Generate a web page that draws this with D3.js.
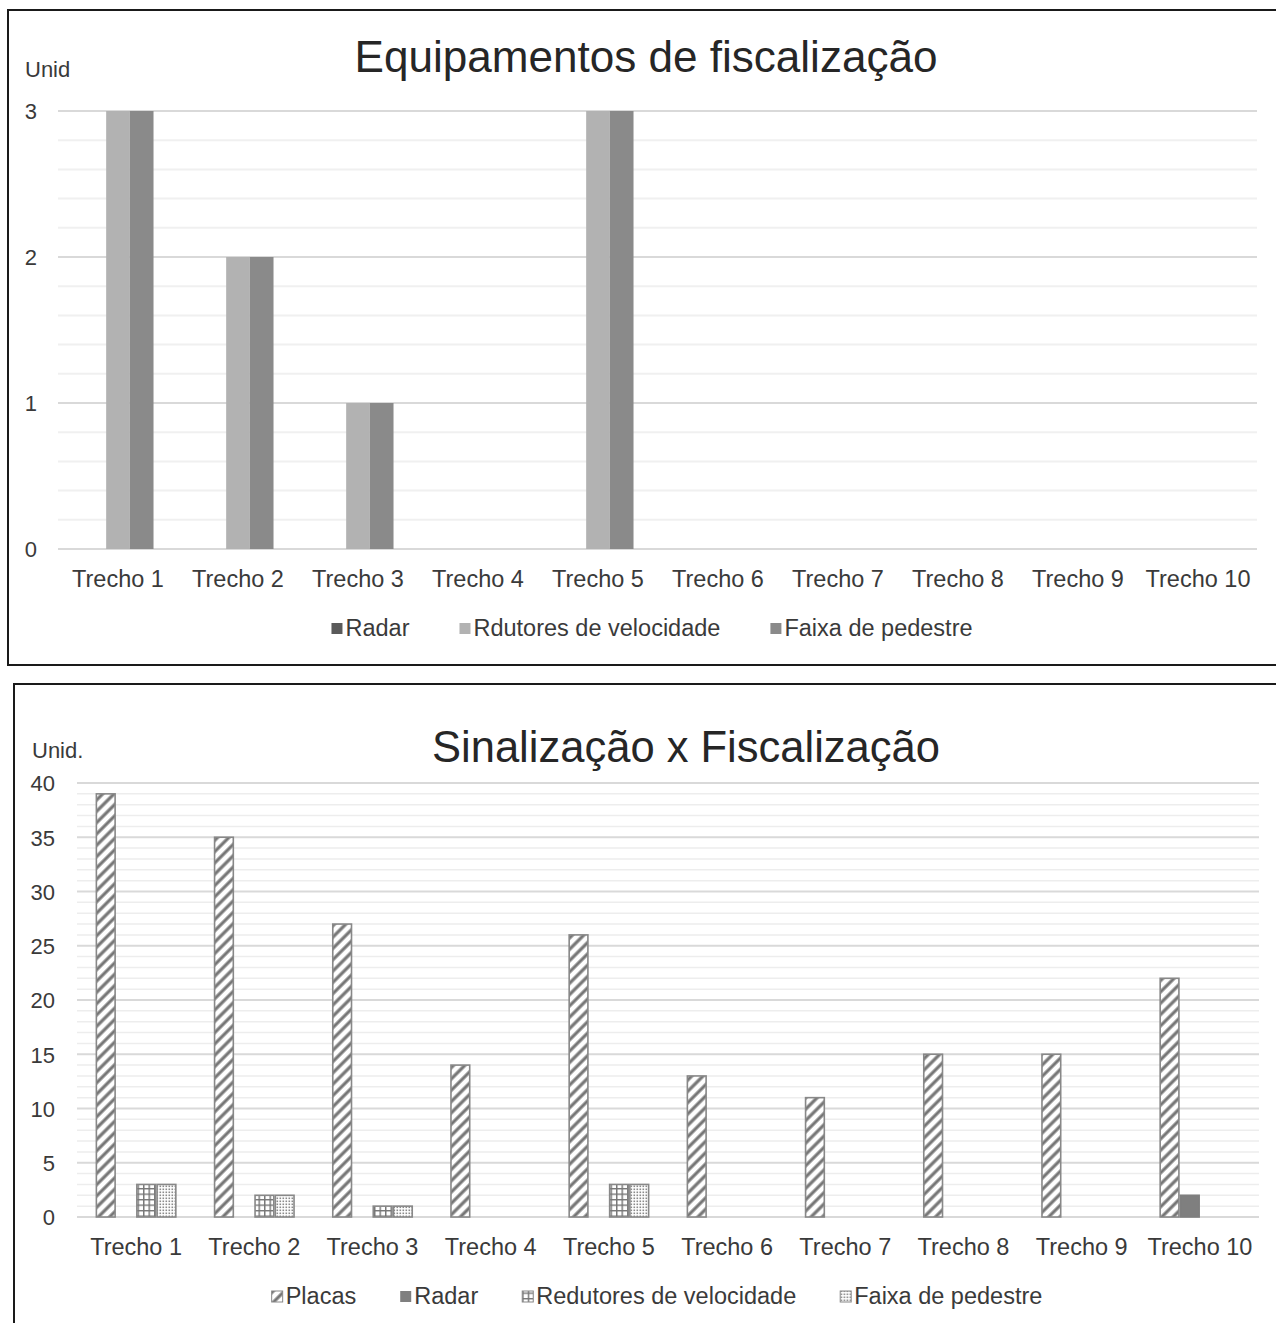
<!DOCTYPE html>
<html><head><meta charset="utf-8">
<script src="https://cdn.jsdelivr.net/npm/d3@7"></script>
<style>body{margin:0;background:#fff}svg{display:block}text{font-family:"Liberation Sans",Arial,sans-serif}</style>
</head><body>
<svg id="c" width="1276" height="1323"></svg>
<script>
const categories = ["Trecho 1","Trecho 2","Trecho 3","Trecho 4","Trecho 5","Trecho 6","Trecho 7","Trecho 8","Trecho 9","Trecho 10"];
// Chart 1: Equipamentos de fiscalização
const c1Series = ["Radar","Rdutores de velocidade","Faixa de pedestre"];
const c1Radar   = [0,0,0,0,0,0,0,0,0,0];
const c1Redutor = [3,2,1,0,3,0,0,0,0,0];
const c1Faixa   = [3,2,1,0,3,0,0,0,0,0];
const c1Ticks = [0,1,2,3];
// Chart 2: Sinalização x Fiscalização
const c2Series = ["Placas","Radar","Redutores de velocidade","Faixa de pedestre"];
const c2Placas  = [39,35,27,14,26,13,11,15,15,22];
const c2Radar   = [0,0,0,0,0,0,0,0,0,2];
const c2Redutor = [3,2,1,0,3,0,0,0,0,0];
const c2Faixa   = [3,2,1,0,3,0,0,0,0,0];
const c2Ticks = [0,5,10,15,20,25,30,35,40];

const svg = d3.select("#c");
const defs = svg.append("defs");
// hatch pattern
const ph = defs.append("pattern").attr("id","hatch").attr("patternUnits","userSpaceOnUse")
  .attr("width",8).attr("height",8).attr("patternTransform","rotate(45)");
ph.append("rect").attr("width",8).attr("height",8).attr("fill","#fff");
ph.append("line").attr("x1",2).attr("x2",2).attr("y1",0).attr("y2",8).attr("stroke","#767676").attr("stroke-width",3.2);
// grid pattern
const pg = defs.append("pattern").attr("id","grid").attr("patternUnits","userSpaceOnUse")
  .attr("width",5.5).attr("height",5.5);
pg.append("rect").attr("width",5.5).attr("height",5.5).attr("fill","#fff");
pg.append("path").attr("d","M0,0.7H5.5M0.7,0V5.5").attr("stroke","#767676").attr("stroke-width",1.5);
// dots pattern
const pd = defs.append("pattern").attr("id","dots").attr("patternUnits","userSpaceOnUse")
  .attr("width",3).attr("height",3);
pd.append("rect").attr("width",3).attr("height",3).attr("fill","#fff");
pd.append("rect").attr("x",0.5).attr("y",0.5).attr("width",1.6).attr("height",1.6).attr("fill","#8a8a8a");

const labelColor = "#3a3a3a";

function legend(g, items, cx, y, gap) {
  const lg = g.append("g");
  let x = 0;
  items.forEach(it => {
    const gi = lg.append("g").attr("transform", `translate(${x},0)`);
    gi.append("rect").attr("x",0).attr("y",y-13).attr("width",11).attr("height",11)
      .attr("fill",it.fill).attr("stroke",it.stroke||"none").attr("stroke-width",1);
    const t = gi.append("text").attr("x",14).attr("y",y).attr("font-size",23.5).attr("fill",labelColor).text(it.name);
    const w = t.node().getComputedTextLength();
    x += 14 + w + gap;
  });
  const total = x - gap;
  lg.attr("transform", `translate(${cx - total/2},0)`);
}

// ---------- Chart 1 ----------
(function(){
  const g = svg.append("g");
  g.append("path").attr("d","M1276,10H8V665H1276").attr("fill","none").attr("stroke","#1a1a1a").attr("stroke-width",2);
  const x = d3.scaleBand().domain(categories).range([58,1258]);
  const y = d3.scaleLinear().domain([0,3]).range([549,111]);
  const minor = d3.range(0,3.0001,0.2);
  g.append("g").selectAll("line").data(minor).join("line")
    .attr("x1",58).attr("x2",1257).attr("y1",d=>y(d)).attr("y2",d=>y(d))
    .attr("stroke",d=>Math.abs(d-Math.round(d))<1e-6?"#d9d9d9":"#f0f0f0").attr("stroke-width",2);
  const gw = x.bandwidth()*0.592;
  const xs = d3.scaleBand().domain(c1Series).range([0,gw]);
  const colors = {"Radar":"#5a5a5a","Rdutores de velocidade":"#b2b2b2","Faixa de pedestre":"#8a8a8a"};
  const vals = {"Radar":c1Radar,"Rdutores de velocidade":c1Redutor,"Faixa de pedestre":c1Faixa};
  c1Series.forEach(s=>{
    g.append("g").selectAll("rect").data(categories).join("rect")
      .attr("x",(d)=>x(d)+(x.bandwidth()-gw)/2+xs(s))
      .attr("width",xs.bandwidth())
      .attr("y",(d,i)=>y(vals[s][i]))
      .attr("height",(d,i)=>y(0)-y(vals[s][i]))
      .attr("fill",colors[s]);
  });
  const ax = g.append("g").attr("transform","translate(0,549)").call(d3.axisBottom(x).tickSize(0).tickPadding(0));
  ax.select(".domain").remove();
  ax.selectAll("text").attr("font-size",23.5).attr("fill",labelColor).attr("dy",null).attr("y",38)
    .attr("font-family",'"Liberation Sans",Arial,sans-serif');
  const ay = g.append("g").attr("transform","translate(37,0)").call(d3.axisLeft(y).tickValues(c1Ticks).tickSize(0).tickPadding(0).tickFormat(d3.format("d")));
  ay.select(".domain").remove();
  ay.selectAll("text").attr("font-size",22).attr("fill",labelColor).attr("dy","0.36em")
    .attr("font-family",'"Liberation Sans",Arial,sans-serif');
  g.append("text").attr("x",25).attr("y",77).attr("font-size",22).attr("fill",labelColor).text("Unid");
  g.append("text").attr("x",646).attr("y",72).attr("text-anchor","middle").attr("font-size",44)
    .attr("fill","#262626").attr("textLength",583).attr("lengthAdjust","spacingAndGlyphs").text("Equipamentos de fiscalização");
  legend(g, c1Series.map(s=>({name:s,fill:colors[s]})), 652, 636, 50);
})();

// ---------- Chart 2 ----------
(function(){
  const g = svg.append("g");
  g.append("path").attr("d","M1276,684H14V1323").attr("fill","none").attr("stroke","#1a1a1a").attr("stroke-width",2);
  const x = d3.scaleBand().domain(categories).range([77,1259]);
  const y = d3.scaleLinear().domain([0,40]).range([1217,783]);
  const minor = d3.range(0,41,1);
  g.append("g").selectAll("line").data(minor).join("line")
    .attr("x1",77).attr("x2",1259).attr("y1",d=>y(d)).attr("y2",d=>y(d))
    .attr("stroke",d=>d%5===0?"#d9d9d9":"#ededed").attr("stroke-width",d=>d%5===0?2:1.5);
  const gw = x.bandwidth()*0.685;
  const xs = d3.scaleBand().domain(c2Series).range([0,gw]);
  const fills = {"Placas":"url(#hatch)","Radar":"#7f7f7f","Redutores de velocidade":"url(#grid)","Faixa de pedestre":"url(#dots)"};
  const vals = {"Placas":c2Placas,"Radar":c2Radar,"Redutores de velocidade":c2Redutor,"Faixa de pedestre":c2Faixa};
  c2Series.forEach(s=>{
    g.append("g").selectAll("rect").data(categories.filter((d,i)=>vals[s][i]>0)).join("rect")
      .attr("x",(d)=>x(d)+(x.bandwidth()-gw)/2+xs(s)+0.75)
      .attr("width",xs.bandwidth()-1.5)
      .attr("y",(d)=>y(vals[s][categories.indexOf(d)]))
      .attr("height",(d)=>y(0)-y(vals[s][categories.indexOf(d)]))
      .attr("fill",fills[s]).attr("stroke",s==="Radar"?"#7f7f7f":"#888").attr("stroke-width",1.6);
  });
  const ax = g.append("g").attr("transform","translate(0,1217)").call(d3.axisBottom(x).tickSize(0).tickPadding(0));
  ax.select(".domain").remove();
  ax.selectAll("text").attr("font-size",23.5).attr("fill",labelColor).attr("dy",null).attr("y",38)
    .attr("font-family",'"Liberation Sans",Arial,sans-serif');
  const ay = g.append("g").attr("transform","translate(55,0)").call(d3.axisLeft(y).tickValues(c2Ticks).tickSize(0).tickPadding(0).tickFormat(d3.format("d")));
  ay.select(".domain").remove();
  ay.selectAll("text").attr("font-size",22).attr("fill",labelColor).attr("dy","0.36em")
    .attr("font-family",'"Liberation Sans",Arial,sans-serif');
  g.append("text").attr("x",32).attr("y",758).attr("font-size",22).attr("fill",labelColor).text("Unid.");
  g.append("text").attr("x",686).attr("y",762).attr("text-anchor","middle").attr("font-size",44)
    .attr("fill","#262626").attr("textLength",508).attr("lengthAdjust","spacingAndGlyphs").text("Sinalização x Fiscalização");
  legend(g, c2Series.map(s=>({name:s,fill:fills[s],stroke:s==="Radar"?null:"#888"})), 657, 1304, 44);
})();
</script>
</body></html>
